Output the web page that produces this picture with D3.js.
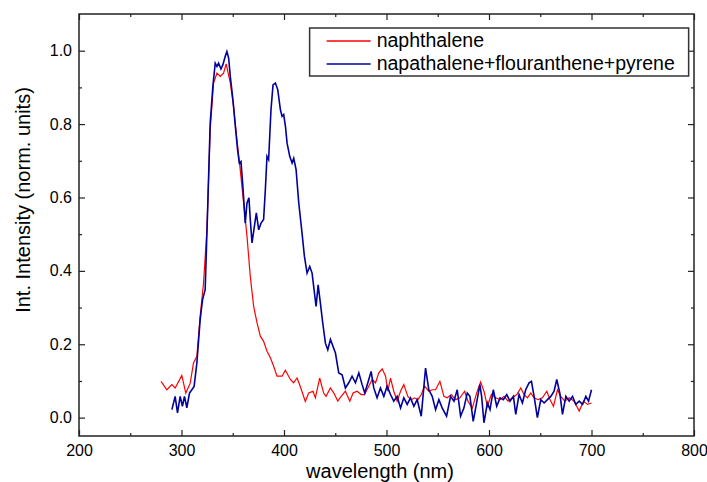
<!DOCTYPE html>
<html>
<head>
<meta charset="utf-8">
<script src="https://cdn.jsdelivr.net/npm/d3@7"></script>
<style>
body { margin: 0; background: #fff; }
text { font-family: Arial, "Liberation Sans", sans-serif; fill: #000; }
</style>
</head>
<body>
<div id="chart"></div>
<script>
// naphthalene (red)
const redX = [280, 285.7, 290.6, 293.8, 300.3, 304.2, 308.5, 311.7, 315, 318.2, 321.5, 324.8, 328, 331.3, 334.6, 337.8, 341, 343.6, 347.6, 350.8,
	354.1, 357.3, 360.6, 363.9, 367.1, 370.4, 373.7, 376.9, 380.1, 383.4, 386.7, 389.9, 393.2, 398.1, 401.3, 406.2, 409.4, 412.7, 415.9, 420.8,
	424.1, 428.3, 430.6, 434.8, 438.7, 441, 445.3, 448.6, 452.5, 455.8, 459.9, 464.2, 467.4, 471.3, 475.3, 478.5, 482.8, 486, 489.3, 492.5,
	495.8, 499.1, 501.3, 503.9, 507.1, 510.4, 513.7, 516.9, 520.8, 524.1, 527.3, 530.6, 533.9, 537.1, 541.3, 544.6, 547.9, 552.1, 556, 559.3,
	563.2, 567.5, 571.6, 576.2, 579.5, 583.7, 587.9, 591.8, 595.1, 598.4, 602.3, 606.5, 610.8, 614.7, 618.6, 622.8, 627.1, 631, 634.2, 637.5,
	640.7, 644, 647.9, 652.1, 656.4, 659.6, 662.9, 666.8, 670, 673.9, 678.2, 683, 688, 692.2, 696.1, 700]
const redY = [0.099, 0.076, 0.09, 0.081, 0.115, 0.067, 0.094, 0.149, 0.167, 0.276, 0.367, 0.512, 0.785, 0.912, 0.939, 0.93, 0.939, 0.964, 0.912, 0.848,
	0.757, 0.676, 0.585, 0.494, 0.385, 0.303, 0.258, 0.222, 0.208, 0.181, 0.163, 0.14, 0.113, 0.113, 0.129, 0.104, 0.095, 0.108, 0.085, 0.044,
	0.067, 0.072, 0.054, 0.108, 0.067, 0.058, 0.081, 0.067, 0.045, 0.058, 0.072, 0.045, 0.067, 0.072, 0.063, 0.063, 0.086, 0.104, 0.095, 0.122,
	0.133, 0.113, 0.072, 0.108, 0.072, 0.045, 0.072, 0.09, 0.058, 0.049, 0.054, 0.049, 0.063, 0.086, 0.072, 0.076, 0.076, 0.099, 0.058, 0.054,
	0.063, 0.049, 0.054, 0.072, 0.045, 0.026, 0.067, 0.097, 0.072, 0.031, 0.063, 0.054, 0.049, 0.058, 0.045, 0.054, 0.063, 0.081, 0.063, 0.054,
	0.067, 0.054, 0.049, 0.054, 0.072, 0.049, 0.031, 0.076, 0.058, 0.045, 0.054, 0.045, 0.018, 0.045, 0.036, 0.04]

// napathalene+flouranthene+pyrene (blue)
const blueX = [290.6, 293.8, 296.1, 298.7, 300.9, 302.9, 305.2, 307.8, 310.1, 312.3, 315, 318.2, 320.5, 323.1, 325.4, 328, 330.6, 332.9, 334.6, 336.2,
	338.5, 340.4, 342.7, 344.3, 346, 347.6, 350.2, 352.5, 354.7, 356.4, 358, 359.9, 362.2, 363.9, 365.8, 367.1, 368.8, 371.1, 373, 375.3,
	377.6, 380.1, 381.8, 383.4, 385, 387.3, 389.3, 391.6, 393.9, 396.5, 398.1, 399.7, 401.4, 403, 405.6, 407.9, 409.5, 411.8, 414.4, 417.6,
	419.9, 422.5, 425.1, 427.4, 429.7, 431.3, 433.3, 435.5, 437.8, 440.4, 442.7, 445.3, 450.2, 453.4, 456.7, 459.9, 463.2, 466.4, 469.7, 473,
	476.2, 478.8, 481.8, 485, 487.6, 490.8, 494.1, 497.4, 500.6, 503.9, 507.1, 510.4, 513.7, 516.9, 520.2, 523.4, 526.7, 529.9, 533.9, 538.1,
	541.3, 544.6, 547.9, 551.1, 554.4, 558.6, 562.5, 565.8, 569, 572.3, 575.5, 578.8, 581.4, 584.6, 587.9, 591.1, 592.8, 595.1, 598.4, 601,
	604.2, 607.5, 610.8, 614, 617.3, 620.5, 623.8, 626.1, 629.3, 632.6, 635.8, 639.1, 641.4, 644, 647.2, 650.5, 653.8, 657, 660.3, 663.5,
	666.1, 669.1, 671.7, 675, 678.2, 681.5, 684.7, 688, 691.3, 694.5, 697.1, 700]
const blueY = [0.022, 0.058, 0.013, 0.058, 0.031, 0.058, 0.027, 0.067, 0.076, 0.085, 0.149, 0.267, 0.321, 0.349, 0.558, 0.803, 0.903, 0.966, 0.957, 0.966,
	0.95, 0.962, 0.985, 0.998, 0.98, 0.93, 0.866, 0.794, 0.73, 0.694, 0.698, 0.63, 0.53, 0.585, 0.599, 0.54, 0.476, 0.521, 0.558, 0.512,
	0.53, 0.54, 0.621, 0.712, 0.703, 0.839, 0.907, 0.912, 0.894, 0.839, 0.821, 0.826, 0.794, 0.748, 0.712, 0.694, 0.707, 0.676, 0.585, 0.503,
	0.44, 0.394, 0.412, 0.394, 0.34, 0.303, 0.362, 0.312, 0.258, 0.203, 0.185, 0.213, 0.176, 0.122, 0.117, 0.081, 0.095, 0.113, 0.095, 0.122,
	0.09, 0.067, 0.095, 0.126, 0.081, 0.054, 0.081, 0.058, 0.086, 0.063, 0.045, 0.058, 0.026, 0.054, 0.036, 0.054, 0.031, 0.049, 0.004, 0.135,
	0.076, 0.058, 0.022, 0.049, 0.026, 0.004, 0.058, 0.045, 0.076, 0.004, 0.026, 0.067, 0.058, -0.01, 0.04, 0.09, 0.058, -0.014, 0.04, 0.022,
	0.076, 0.031, 0.054, 0.049, 0.063, 0.045, 0.058, 0.009, 0.063, 0.04, 0.076, 0.095, 0.099, 0.058, 0, 0.049, 0.04, 0.049, 0.058, 0.072,
	0.104, 0.067, 0.009, 0.058, 0.045, 0.058, 0.036, 0.045, 0.036, 0.058, 0.045, 0.076]

const xTicks = [200, 300, 400, 500, 600, 700, 800]
const xMinor = [250, 350, 450, 550, 650, 750]
const yTicks = [0, 0.2, 0.4, 0.6, 0.8, 1.0]
const yMinor = [0.1, 0.3, 0.5, 0.7, 0.9]
const seriesNames = ["naphthalene", "napathalene+flouranthene+pyrene"]
const seriesColors = ["#ff0000", "#00009c"]

const svgWidth = 707, svgHeight = 482
var margin = { left: 79, right: 13, top: 14, bottom: 46 }
var width = svgWidth - margin.left - margin.right,
	height = svgHeight - margin.top - margin.bottom

let svg = d3.select("#chart").append("svg")
	.attr("width", svgWidth)
	.attr("height", svgHeight)

let g = svg.append("g")
	.attr("transform", "translate(" + margin.left + ", " + margin.top + ")")

var x = d3.scaleLinear().domain([200, 800]).range([0, width])
var y = d3.scaleLinear().domain([-0.05, 1.1]).range([height, 0])

let line = d3.line()
	.x(d => x(d[0]))
	.y(d => y(d[1]))

g.append("path")
	.datum(redX.map((v, i) => [v, redY[i]]))
	.attr("fill", "none")
	.attr("stroke", seriesColors[0])
	.attr("stroke-width", 1.2)
	.attr("d", line)

g.append("path")
	.datum(blueX.map((v, i) => [v, blueY[i]]))
	.attr("fill", "none")
	.attr("stroke", seriesColors[1])
	.attr("stroke-width", 1.6)
	.attr("d", line)

// axes, ticks pointing inward on all four sides
function styleAxis(sel) {
	sel.select(".domain").remove()
	sel.selectAll("line").attr("stroke", "#222").attr("stroke-width", 1.2)
	sel.selectAll("text").attr("font-size", "16px")
}

g.append("g").attr("transform", "translate(0," + height + ")")
	.call(d3.axisBottom(x).tickValues(xTicks).tickSize(-6).tickPadding(9).tickFormat(d3.format("d")))
	.call(styleAxis)
g.append("g").attr("transform", "translate(0," + height + ")")
	.call(d3.axisBottom(x).tickValues(xMinor).tickSize(-3).tickFormat(""))
	.call(styleAxis)
g.append("g")
	.call(d3.axisTop(x).tickValues(xTicks).tickSize(-6).tickFormat(""))
	.call(styleAxis)
g.append("g")
	.call(d3.axisTop(x).tickValues(xMinor).tickSize(-3).tickFormat(""))
	.call(styleAxis)

g.append("g")
	.call(d3.axisLeft(y).tickValues(yTicks).tickSize(-6).tickPadding(7).tickFormat(d3.format(".1f")))
	.call(styleAxis)
g.append("g")
	.call(d3.axisLeft(y).tickValues(yMinor).tickSize(-3).tickFormat(""))
	.call(styleAxis)
g.append("g").attr("transform", "translate(" + width + ",0)")
	.call(d3.axisRight(y).tickValues(yTicks).tickSize(-6).tickFormat(""))
	.call(styleAxis)
g.append("g").attr("transform", "translate(" + width + ",0)")
	.call(d3.axisRight(y).tickValues(yMinor).tickSize(-3).tickFormat(""))
	.call(styleAxis)

// frame
g.append("rect")
	.attr("width", width)
	.attr("height", height)
	.attr("fill", "none")
	.attr("stroke", "#222")
	.attr("stroke-width", 1.5)

//Labels
g.append("text")
	.attr("x", 301)
	.attr("y", height + 42)
	.attr("font-size", "20px")
	.attr("text-anchor", "middle")
	.text("wavelength (nm)")
g.append("text")
	.attr("x", -186)
	.attr("y", -49)
	.attr("font-size", "20px")
	.attr("text-anchor", "middle")
	.attr("transform", "rotate(-90)")
	.text("Int. Intensity (norm. units)")

// legend
let legend = g.append("g")
	.attr("transform", "translate(" + (x(425) ) + "," + 14 + ")")
legend.append("rect")
	.attr("width", 379)
	.attr("height", 48)
	.attr("fill", "#fff")
	.attr("stroke", "#333")
	.attr("stroke-width", 1.5)
seriesNames.forEach((name, i) => {
	let row = legend.append("g").attr("transform", "translate(0," + (13 + i * 23) + ")")
	row.append("line")
		.attr("x1", 17).attr("x2", 61)
		.attr("stroke", seriesColors[i])
		.attr("stroke-width", 1.5)
	row.append("text")
		.attr("x", 67)
		.attr("y", 6)
		.attr("font-size", "19.5px")
		.text(name)
})
</script>
</body>
</html>
